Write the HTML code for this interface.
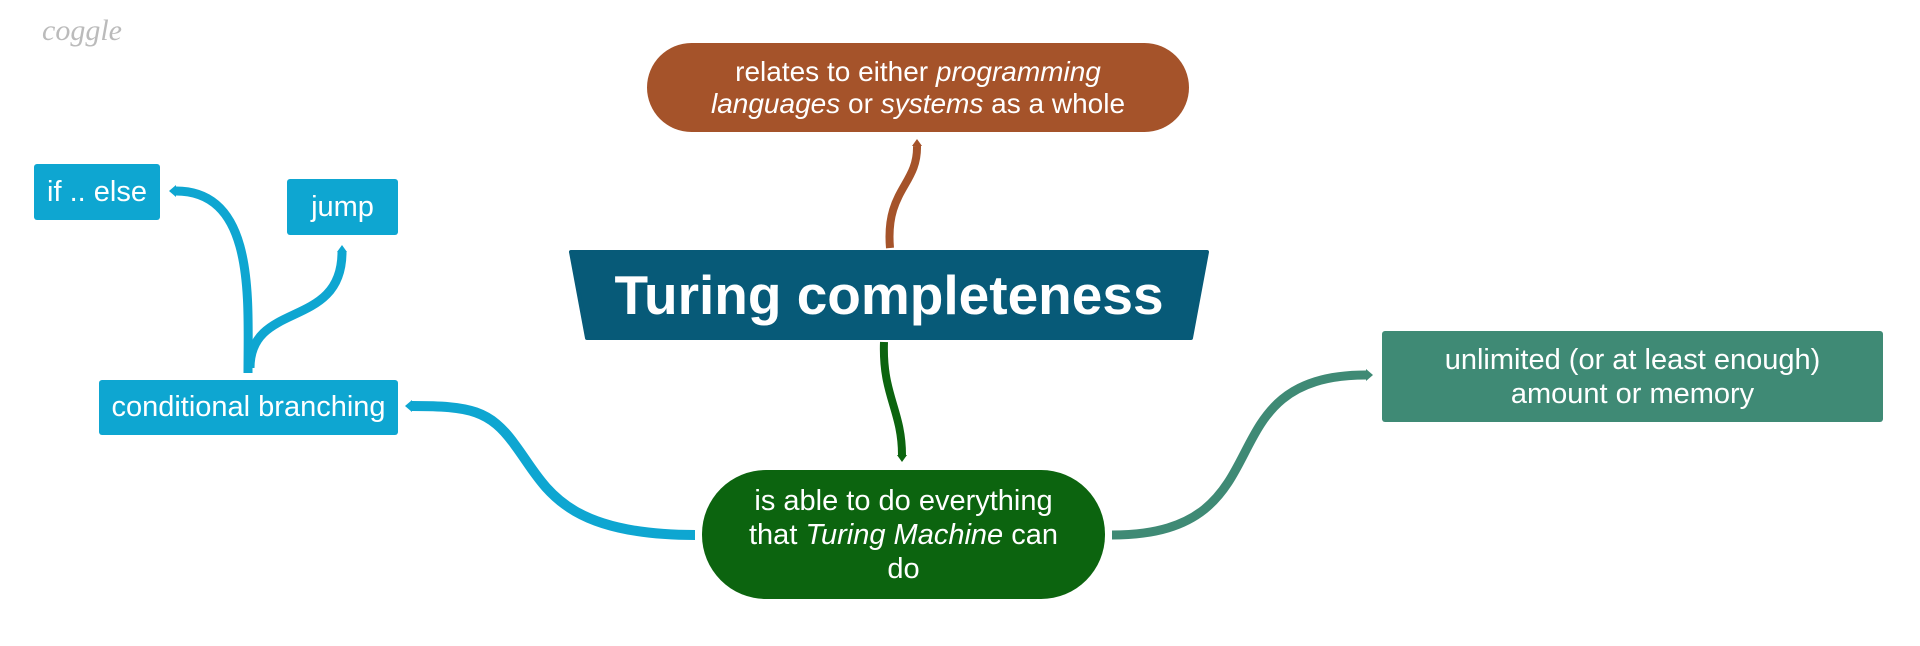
<!DOCTYPE html>
<html><head><meta charset="utf-8"><style>
html,body{margin:0;padding:0;background:#fff;}
body{width:1920px;height:646px;position:relative;overflow:hidden;font-family:"Liberation Sans",sans-serif;}
.n{position:absolute;color:#fff;display:flex;align-items:center;justify-content:center;text-align:center;box-sizing:border-box;}
.n>div{width:100%;}
</style></head><body>
<svg width="1920" height="646" style="position:absolute;left:0;top:0">
  <polygon points="571,252 1207,252 1191,338 587,338" fill="#075a78" stroke="#075a78" stroke-width="4" stroke-linejoin="round"/>
  <text x="889" y="314" fill="#fff" font-family="Liberation Sans" font-weight="bold" font-size="55" text-anchor="middle">Turing completeness</text>
  <g fill="none" stroke-linecap="butt">
    <path d="M890,248 C885,190 918,185 917,146" stroke="#a5532a" stroke-width="8"/>
    <path d="M884,342 C882,395 902,410 902,455" stroke="#0c640f" stroke-width="8"/>
    <path d="M695,535 C560,535 545,485 515,445 C490,410 470,406 412,406" stroke="#0ea6d1" stroke-width="10"/>
    <path d="M248,373 C248,300 256,191 176,191" stroke="#0ea6d1" stroke-width="9"/>
    <path d="M250,368 C250,300 342,330 342,252" stroke="#0ea6d1" stroke-width="9"/>
    <path d="M1112,535 C1290,535 1200,375 1366,375" stroke="#3f8a75" stroke-width="9"/>
  </g>
  <polygon points="912,146 917,139 922,146" fill="#a5532a"/>
  <polygon points="897,455 902,462 907,455" fill="#0c640f"/>
  <polygon points="412,400 405,406 412,412" fill="#0ea6d1"/>
  <polygon points="176,185 169,191 176,197" fill="#0ea6d1"/>
  <polygon points="337,252 342,245 347,252" fill="#0ea6d1"/>
  <polygon points="1366,369 1373,375 1366,381" fill="#3f8a75"/>
</svg>
<div style="position:absolute;left:42px;top:14px;font-family:'Liberation Serif',serif;font-style:italic;font-size:30px;color:#bbb;">coggle</div>
<div class="n" style="left:647px;top:43px;width:542px;height:89px;background:#a5532a;border-radius:45px;font-size:28px;line-height:32px;"><div>relates to either <i>programming</i><br><i>languages</i> or <i>systems</i> as a whole</div></div>
<div class="n" style="left:702px;top:470px;width:403px;height:129px;background:#0c640f;border-radius:64px;font-size:29px;line-height:34px;padding:0 40px;"><div>is able to do everything that <i>Turing Machine</i> can do</div></div>
<div class="n" style="left:1382px;top:331px;width:501px;height:91px;background:#3f8a75;border-radius:3px;font-size:29px;line-height:34px;"><div>unlimited (or at least enough)<br>amount or memory</div></div>
<div class="n" style="left:99px;top:380px;width:299px;height:55px;background:#0ea6d1;border-radius:3px;font-size:29px;"><div>conditional branching</div></div>
<div class="n" style="left:34px;top:164px;width:126px;height:56px;background:#0ea6d1;border-radius:3px;font-size:29px;"><div>if .. else</div></div>
<div class="n" style="left:287px;top:179px;width:111px;height:56px;background:#0ea6d1;border-radius:3px;font-size:29px;"><div>jump</div></div>
</body></html>
